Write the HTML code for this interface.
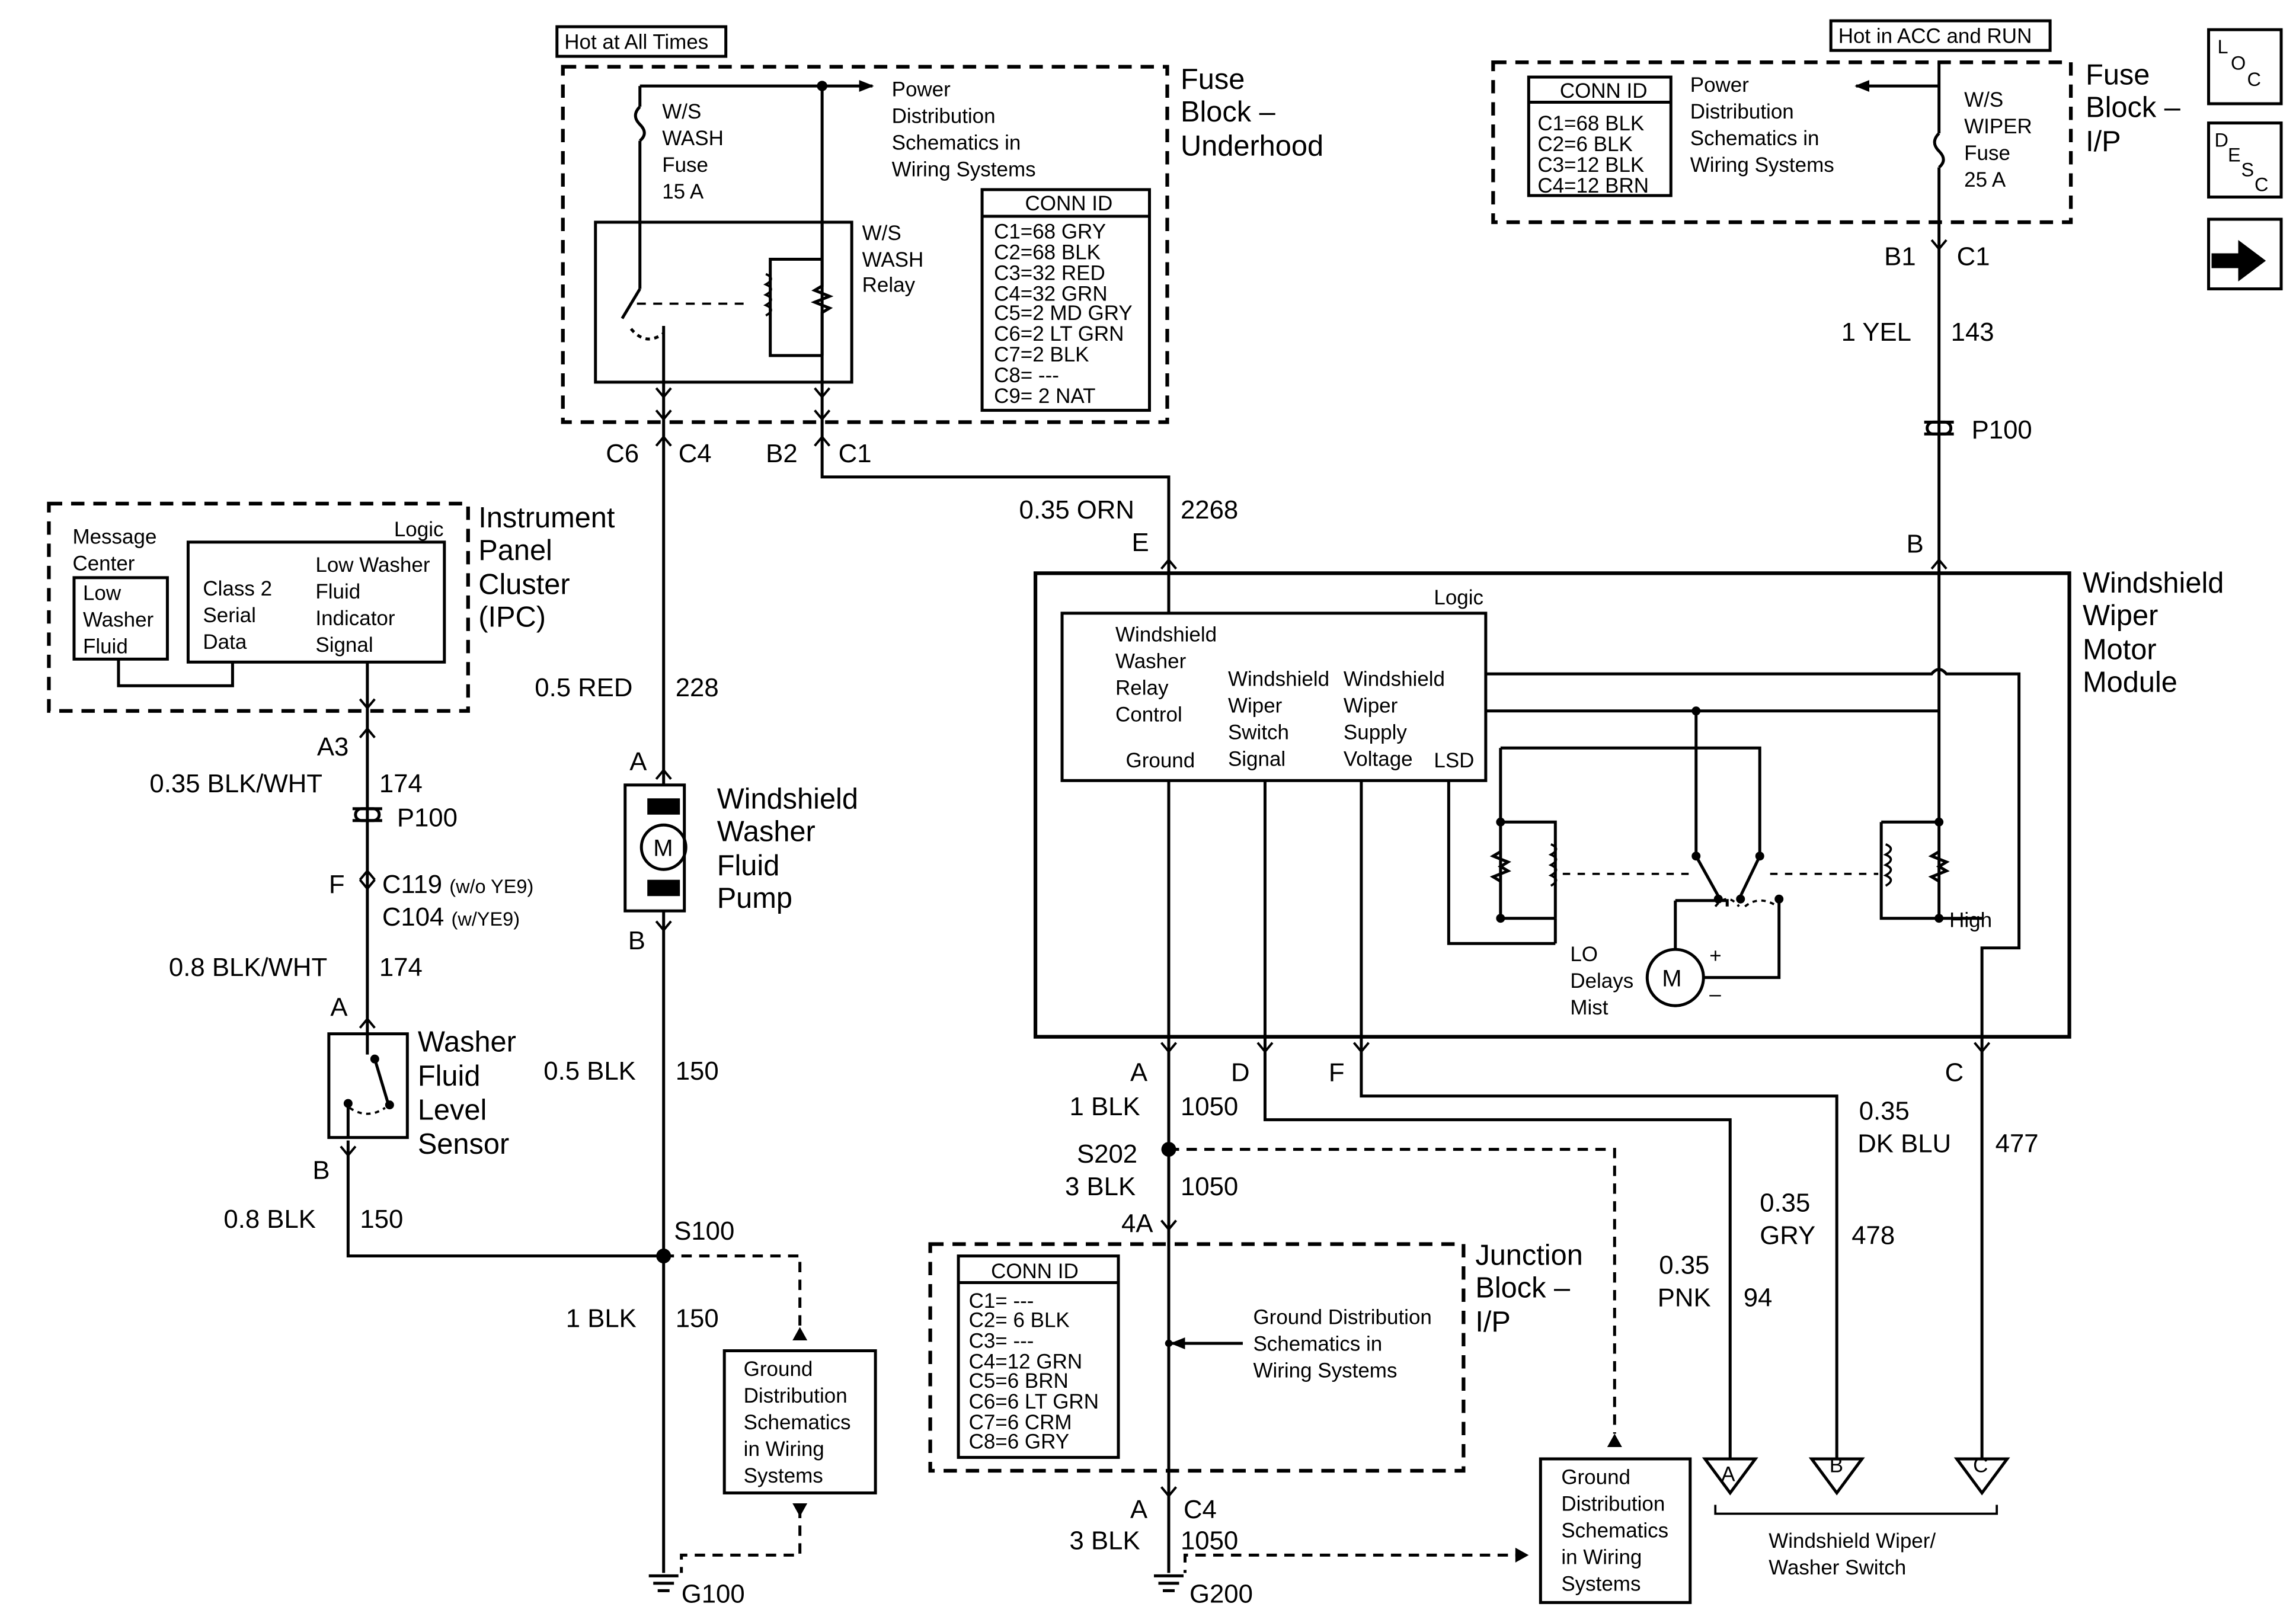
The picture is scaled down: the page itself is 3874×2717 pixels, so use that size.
<!DOCTYPE html>
<html><head><meta charset="utf-8"><style>
html,body{margin:0;padding:0;background:#fff}
svg{display:block}
text{font-family:"Liberation Sans",Arial,sans-serif;fill:#000}
.b{font-size:19.5px}.s{font-size:14px}.m{font-size:17.5px}
</style></head><body>
<svg width="3874" height="2717" viewBox="0 0 1550 1087" xmlns="http://www.w3.org/2000/svg">
<defs>
<marker id="ar" markerWidth="10" markerHeight="10" refX="9" refY="5" orient="auto" markerUnits="userSpaceOnUse"><path d="M0,1 L10,5 L0,9 z" fill="#000"/></marker>
<g id="fk"><path d="M-5,-6 L0,0 L5,-6" fill="none" stroke="#000" stroke-width="1.6"/></g>
<g id="ac"><path d="M-5,6 L0,0 L5,6" fill="none" stroke="#000" stroke-width="1.6"/></g>
</defs>
<g stroke="#000" stroke-width="2" fill="none">
<rect x="376" y="18" width="114" height="20" stroke-width="2"/>
<rect x="380" y="45" width="408" height="240" stroke-dasharray="9,6" stroke-width="2.5"/>
<line x1="432" y1="58" x2="589" y2="58" marker-end="url(#ar)"/>
<path d="M432,58 V72 M432,95 V150 M432,72 q-6,6 0,12 q6,6 0,11"/>
<line x1="555" y1="58" x2="555" y2="150"/>
<circle cx="555" cy="58" r="2.5" fill="#000"/>
<rect x="402" y="150" width="173" height="108"/>
<path d="M432,150 V195 M432,195 L420,215 M448,258 V220 M555,150 V258"/>
<path d="M426,222 q10,12 22,3" stroke-dasharray="3,3"/>
<path d="M430,205 H505" stroke-dasharray="6,5" stroke-width="1.5"/>
<path d="M555,150 V175 H520 V240 H555 M555,175 V193 l-5,3 l10,4 l-10,4 l10,4 l-5,3 V240"/>
<path d="M517,185 q7,3 0,7 q7,3 0,7 q7,3 0,7 q7,3 0,7" stroke-width="1.5"/>
<rect x="663" y="128" width="113" height="149"/>
<line x1="663" y1="146" x2="776" y2="146"/>
<path d="M448,258 V300 M555,258 V300 M448,300 V530 M555,300 V322 H789 V387"/>
<rect x="33" y="340" width="283" height="140" stroke-dasharray="9,6" stroke-width="2.5"/>
<rect x="50" y="390" width="63" height="55"/>
<rect x="127" y="366" width="173" height="81"/>
<path d="M80,445 V463 H157 V447 M248,447 V698"/>
<path d="M238,546 H258 M238,554 H258" stroke-width="2"/>
<rect x="240" y="546" width="16" height="8" rx="4"/>
<rect x="222" y="698" width="53" height="70"/>
<path d="M248,698 V712 M235,770 V848 H448"/>
<path d="M253,715 L262,745 M235,745 V768" />
<circle cx="235" cy="745" r="2" fill="#000"/><circle cx="263" cy="746" r="2" fill="#000"/><circle cx="253" cy="715" r="2" fill="#000"/>
<path d="M236,748 q12,8 24,0" stroke-dasharray="3,3" stroke-width="1.5"/>
<rect x="422" y="530" width="40" height="85"/>
<circle cx="448" cy="572" r="15"/>
<rect x="438" y="540" width="20" height="9" fill="#000"/><rect x="438" y="595" width="20" height="9" fill="#000"/>
<path d="M448,615 V1062"/>
<path d="M448,848 H540 V905" stroke-dasharray="7,5"/>
<rect x="489" y="912" width="102" height="96"/>
<path d="M540,1018 V1050 H460 V1062" stroke-dasharray="7,5"/>
<rect x="1236" y="14" width="148" height="20"/>
<rect x="1008" y="42" width="390" height="108" stroke-dasharray="9,6" stroke-width="2.5"/>
<rect x="1032" y="52" width="96" height="80"/>
<line x1="1032" y1="69" x2="1128" y2="69"/>
<line x1="1309" y1="58" x2="1253" y2="58" marker-end="url(#ar)"/>
<path d="M1309,42 V90 M1309,90 q-6,6 0,12 q6,6 0,11 M1309,113 V387"/>
<path d="M1299,285 H1319 M1299,293 H1319"/>
<rect x="1301" y="285" width="16" height="8" rx="4"/>
<rect x="1491" y="20" width="49" height="50"/><rect x="1491" y="83" width="49" height="50"/><rect x="1491" y="148" width="49" height="47"/>
<rect x="699" y="387" width="698" height="313" stroke-width="2.5"/>
<rect x="717" y="414" width="286" height="113"/>
<path d="M789,387 V414 M789,527 V700 M854,527 V700 M919,527 V700"/>
<path d="M1003,455 H1304 q5,-6 10,0 H1363 V640 H1338 V700 M1309,387 V620 H1338"/>
<path d="M1003,480 H1309 M1145,480 V578 M1013,505 H1188 V578 M1013,505 V620 H1050 M1013,555 H1050 V620"/>
<path d="M1013,575 l-5,3 l10,4 l-5,3 l5,3 l-10,4 l5,3"/>
<path d="M1047,570 q7,3 0,7 q7,3 0,7 q7,3 0,7 q7,3 0,7" stroke-width="1.5"/>
<path d="M978,527 V637 H1050 M1050,620 V637"/>
<path d="M1270,555 H1309 M1270,555 V620 H1309 M1309,575 l-5,3 l10,4 l-5,3 l5,3 l-10,4 l5,3"/>
<path d="M1273,570 q7,3 0,7 q7,3 0,7 q7,3 0,7 q7,3 0,7" stroke-width="1.5"/>
<path d="M1145,578 L1160,605 M1188,578 L1175,605"/>
<path d="M1055,590 H1140 M1195,590 H1268" stroke-dasharray="5,5" stroke-width="1.5"/>
<path d="M1158,612 q8,-10 16,0 M1178,612 q10,-8 22,0" stroke-dasharray="3,3" stroke-width="1.5"/>
<path d="M1131,608 V641 M1201,608 V660 H1150 M1131,679 V680"/>
<path d="M1131,608 H1166 V612" />
<circle cx="1131" cy="660" r="19"/>
<path d="M1338,700 V985 M854,700 V756 H1168 V985 M919,700 V740 H1240 V985 M789,700 V1062"/>
<path d="M789,776 H1090 V968" stroke-dasharray="7,5"/>
<rect x="1040" y="985" width="101" height="97"/>
<path d="M1030,1050 H800 V1062" stroke-dasharray="7,5"/>
<rect x="628" y="840" width="360" height="153" stroke-dasharray="9,6" stroke-width="2.5"/>
<rect x="647" y="848" width="108" height="136"/>
<line x1="647" y1="866" x2="755" y2="866"/>
<line x1="839" y1="907" x2="791" y2="907" marker-end="url(#ar)"/>
<path d="M1151,985 L1185,985 L1168,1008 Z M1223,985 L1257,985 L1240,1008 Z M1321,985 L1355,985 L1338,1008 Z"/>
<path d="M1158,1016 V1022 H1348 V1016" stroke-width="1.5"/>
<path d="M438,1064 H458 M441,1069 H455 M444,1074 H452 M779,1064 H799 M782,1069 H796 M785,1074 H793"/>
<path d="M1494,172 H1512 V164 L1528,176 L1512,188 V180 H1494 Z" fill="#000"/>
</g>
<g fill="#000">
<circle cx="448" cy="848" r="5"/><circle cx="789" cy="776" r="5"/><circle cx="789" cy="907" r="2.5"/>
<circle cx="1309" cy="620" r="3"/><circle cx="1309" cy="555" r="3"/><circle cx="1145" cy="578" r="3"/><circle cx="1188" cy="578" r="3"/>
<circle cx="1160" cy="607" r="3"/><circle cx="1175" cy="607" r="3"/><circle cx="1201" cy="607" r="3"/>
<circle cx="1013" cy="555" r="3"/><circle cx="1013" cy="620" r="3"/><circle cx="1145" cy="480" r="3"/>
<path d="M540,896 l-5,9 h10z M540,1024 l-5,-9 h10z M1090,968 l-5,9 h10z M1032,1050 l-9,-5 v10z"/>
</g>
<use href="#fk" x="448" y="268"/><use href="#fk" x="448" y="283"/><use href="#ac" x="448" y="295"/>
<use href="#fk" x="555" y="268"/><use href="#fk" x="555" y="283"/><use href="#ac" x="555" y="295"/>
<use href="#fk" x="248" y="478"/><use href="#ac" x="248" y="492"/>
<use href="#fk" x="248" y="600"/><use href="#ac" x="248" y="588"/>
<use href="#ac" x="248" y="688"/><use href="#fk" x="235" y="780"/>
<use href="#ac" x="448" y="520"/><use href="#fk" x="448" y="628"/>
<use href="#fk" x="1309" y="168"/>
<use href="#ac" x="1309" y="378"/><use href="#ac" x="789" y="378"/>
<use href="#fk" x="789" y="710"/><use href="#fk" x="854" y="710"/><use href="#fk" x="919" y="710"/><use href="#fk" x="1338" y="710"/>
<use href="#fk" x="789" y="830"/><use href="#fk" x="789" y="1010"/>
<g>
<text x="381" y="33" class="s">Hot at All Times</text>
<text x="447" y="80" class="s">W/S</text><text x="447" y="98" class="s">WASH</text><text x="447" y="116" class="s">Fuse</text><text x="447" y="134" class="s">15 A</text>
<text x="602" y="65" class="s">Power</text><text x="602" y="83" class="s">Distribution</text><text x="602" y="101" class="s">Schematics in</text><text x="602" y="119" class="s">Wiring Systems</text>
<text x="797" y="60" class="b">Fuse</text><text x="797" y="82" class="b">Block –</text><text x="797" y="105" class="b">Underhood</text>
<text x="582" y="162" class="s">W/S</text><text x="582" y="180" class="s">WASH</text><text x="582" y="197" class="s">Relay</text>
<text x="692" y="142" class="s">CONN ID</text>
<g class="s"><text x="671" y="161">C1=68 GRY</text><text x="671" y="175">C2=68 BLK</text><text x="671" y="189">C3=32 RED</text><text x="671" y="203">C4=32 GRN</text><text x="671" y="216">C5=2 MD GRY</text><text x="671" y="230">C6=2 LT GRN</text><text x="671" y="244">C7=2 BLK</text><text x="671" y="258">C8= ---</text><text x="671" y="272">C9= 2 NAT</text></g>
<text x="409" y="312" class="m">C6</text><text x="458" y="312" class="m">C4</text><text x="517" y="312" class="m">B2</text><text x="566" y="312" class="m">C1</text>
<text x="688" y="350" class="m">0.35 ORN</text><text x="797" y="350" class="m">2268</text><text x="764" y="372" class="m">E</text>
<text x="49" y="367" class="s">Message</text><text x="49" y="385" class="s">Center</text>
<text x="56" y="405" class="s">Low</text><text x="56" y="423" class="s">Washer</text><text x="56" y="441" class="s">Fluid</text>
<text x="266" y="362" class="s">Logic</text>
<text x="137" y="402" class="s">Class 2</text><text x="137" y="420" class="s">Serial</text><text x="137" y="438" class="s">Data</text>
<text x="213" y="386" class="s">Low Washer</text><text x="213" y="404" class="s">Fluid</text><text x="213" y="422" class="s">Indicator</text><text x="213" y="440" class="s">Signal</text>
<text x="323" y="356" class="b">Instrument</text><text x="323" y="378" class="b">Panel</text><text x="323" y="401" class="b">Cluster</text><text x="323" y="423" class="b">(IPC)</text>
<text x="214" y="510" class="m">A3</text><text x="101" y="535" class="m">0.35 BLK/WHT</text><text x="256" y="535" class="m">174</text><text x="268" y="558" class="m">P100</text>
<text x="222" y="603" class="m">F</text><text x="258" y="603" class="m">C119 <tspan font-size="13">(w/o YE9)</tspan></text><text x="258" y="625" class="m">C104 <tspan font-size="13">(w/YE9)</tspan></text>
<text x="114" y="659" class="m">0.8 BLK/WHT</text><text x="256" y="659" class="m">174</text><text x="223" y="686" class="m">A</text>
<text x="282" y="710" class="b">Washer</text><text x="282" y="733" class="b">Fluid</text><text x="282" y="756" class="b">Level</text><text x="282" y="779" class="b">Sensor</text>
<text x="211" y="796" class="m">B</text><text x="151" y="829" class="m">0.8 BLK</text><text x="243" y="829" class="m">150</text>
<text x="361" y="470" class="m">0.5 RED</text><text x="456" y="470" class="m">228</text><text x="425" y="520" class="m">A</text>
<text x="441" y="578" font-size="16">M</text>
<text x="484" y="546" class="b">Windshield</text><text x="484" y="568" class="b">Washer</text><text x="484" y="591" class="b">Fluid</text><text x="484" y="613" class="b">Pump</text>
<text x="424" y="641" class="m">B</text><text x="367" y="729" class="m">0.5 BLK</text><text x="456" y="729" class="m">150</text>
<text x="455" y="837" class="m">S100</text><text x="382" y="896" class="m">1 BLK</text><text x="456" y="896" class="m">150</text>
<text x="502" y="929" class="s">Ground</text><text x="502" y="947" class="s">Distribution</text><text x="502" y="965" class="s">Schematics</text><text x="502" y="983" class="s">in Wiring</text><text x="502" y="1001" class="s">Systems</text>
<text x="460" y="1082" class="m">G100</text>
<text x="1241" y="29" class="s">Hot in ACC and RUN</text>
<text x="1053" y="66" class="s">CONN ID</text>
<text x="1038" y="88" class="s">C1=68 BLK</text><text x="1038" y="102" class="s">C2=6 BLK</text><text x="1038" y="116" class="s">C3=12 BLK</text><text x="1038" y="130" class="s">C4=12 BRN</text>
<text x="1141" y="62" class="s">Power</text><text x="1141" y="80" class="s">Distribution</text><text x="1141" y="98" class="s">Schematics in</text><text x="1141" y="116" class="s">Wiring Systems</text>
<text x="1326" y="72" class="s">W/S</text><text x="1326" y="90" class="s">WIPER</text><text x="1326" y="108" class="s">Fuse</text><text x="1326" y="126" class="s">25 A</text>
<text x="1408" y="57" class="b">Fuse</text><text x="1408" y="79" class="b">Block –</text><text x="1408" y="102" class="b">I/P</text>
<text x="1497" y="36" font-size="13">L</text><text x="1506" y="47" font-size="13">O</text><text x="1517" y="58" font-size="13">C</text>
<text x="1495" y="99" font-size="13">D</text><text x="1504" y="109" font-size="13">E</text><text x="1513" y="119" font-size="13">S</text><text x="1522" y="129" font-size="13">C</text>
<text x="1272" y="179" class="m">B1</text><text x="1321" y="179" class="m">C1</text>
<text x="1243" y="230" class="m">1 YEL</text><text x="1317" y="230" class="m">143</text><text x="1331" y="296" class="m">P100</text><text x="1287" y="373" class="m">B</text>
<text x="1406" y="400" class="b">Windshield</text><text x="1406" y="422" class="b">Wiper</text><text x="1406" y="445" class="b">Motor</text><text x="1406" y="467" class="b">Module</text>
<text x="968" y="408" class="s">Logic</text>
<text x="753" y="433" class="s">Windshield</text><text x="753" y="451" class="s">Washer</text><text x="753" y="469" class="s">Relay</text><text x="753" y="487" class="s">Control</text>
<text x="829" y="463" class="s">Windshield</text><text x="829" y="481" class="s">Wiper</text><text x="829" y="499" class="s">Switch</text><text x="829" y="517" class="s">Signal</text>
<text x="907" y="463" class="s">Windshield</text><text x="907" y="481" class="s">Wiper</text><text x="907" y="499" class="s">Supply</text><text x="907" y="517" class="s">Voltage</text>
<text x="760" y="518" class="s">Ground</text><text x="968" y="518" class="s">LSD</text>
<text x="1316" y="626" class="s">High</text>
<text x="1060" y="649" class="s">LO</text><text x="1060" y="667" class="s">Delays</text><text x="1060" y="685" class="s">Mist</text>
<text x="1122" y="666" font-size="16">M</text><text x="1154" y="650" class="s">+</text><text x="1154" y="676" class="s">–</text>
<text x="763" y="730" class="m">A</text><text x="831" y="730" class="m">D</text><text x="897" y="730" class="m">F</text><text x="1313" y="730" class="m">C</text>
<text x="722" y="753" class="m">1 BLK</text><text x="797" y="753" class="m">1050</text>
<text x="727" y="785" class="m">S202</text><text x="719" y="807" class="m">3 BLK</text><text x="797" y="807" class="m">1050</text><text x="757" y="832" class="m">4A</text>
<text x="1255" y="756" class="m">0.35</text><text x="1254" y="778" class="m">DK BLU</text><text x="1347" y="778" class="m">477</text>
<text x="1188" y="818" class="m">0.35</text><text x="1188" y="840" class="m">GRY</text><text x="1250" y="840" class="m">478</text>
<text x="1120" y="860" class="m">0.35</text><text x="1119" y="882" class="m">PNK</text><text x="1177" y="882" class="m">94</text>
<text x="996" y="854" class="b">Junction</text><text x="996" y="876" class="b">Block –</text><text x="996" y="899" class="b">I/P</text>
<text x="669" y="863" class="s">CONN ID</text>
<g class="s"><text x="654" y="883">C1= ---</text><text x="654" y="896">C2= 6 BLK</text><text x="654" y="910">C3= ---</text><text x="654" y="924">C4=12 GRN</text><text x="654" y="937">C5=6 BRN</text><text x="654" y="951">C6=6 LT GRN</text><text x="654" y="965">C7=6 CRM</text><text x="654" y="978">C8=6 GRY</text></g>
<text x="846" y="894" class="s">Ground Distribution</text><text x="846" y="912" class="s">Schematics in</text><text x="846" y="930" class="s">Wiring Systems</text>
<text x="763" y="1025" class="m">A</text><text x="799" y="1025" class="m">C4</text><text x="722" y="1046" class="m">3 BLK</text><text x="797" y="1046" class="m">1050</text>
<text x="803" y="1082" class="m">G200</text>
<text x="1054" y="1002" class="s">Ground</text><text x="1054" y="1020" class="s">Distribution</text><text x="1054" y="1038" class="s">Schematics</text><text x="1054" y="1056" class="s">in Wiring</text><text x="1054" y="1074" class="s">Systems</text>
<text x="1162" y="1000" class="s">A</text><text x="1235" y="994" class="s">B</text><text x="1332" y="994" class="s">C</text>
<text x="1194" y="1045" class="s">Windshield Wiper/</text><text x="1194" y="1063" class="s">Washer Switch</text>
</g>
</svg>
</body></html>
